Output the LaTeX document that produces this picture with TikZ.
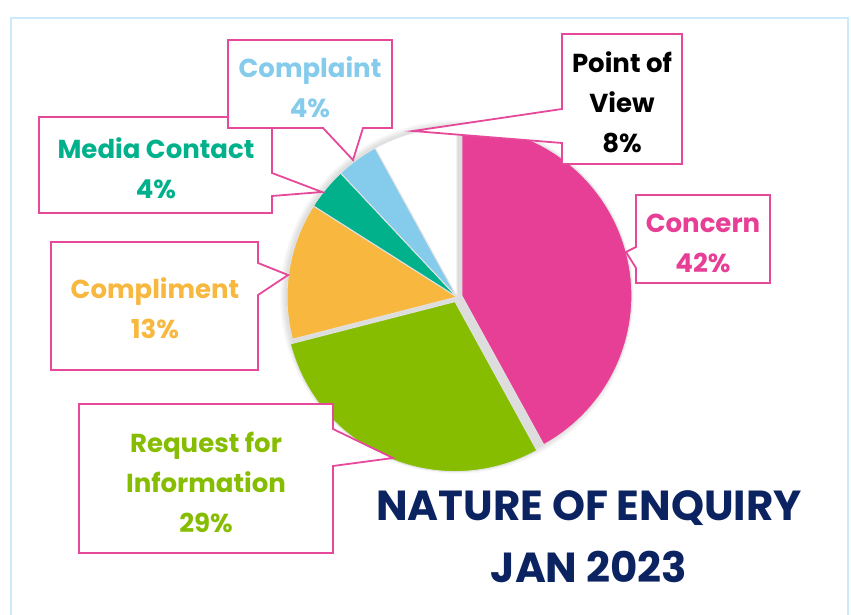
\documentclass[tikz,border=0pt]{standalone}
\usepackage{fontspec}
\setmainfont{Poppins}
\usetikzlibrary{calc}
\definecolor{concernPink}{HTML}{E63F95}
\definecolor{requestGreen}{HTML}{86BD00}
\definecolor{complimentOrange}{HTML}{F8B840}
\definecolor{mediaTeal}{HTML}{00B18B}
\definecolor{complaintBlue}{HTML}{84CBEC}
\definecolor{titleNavy}{HTML}{0C2361}
\definecolor{frameBlue}{HTML}{CBEBFB}
\definecolor{sepGray}{HTML}{E2E2E2}
\newcommand{\myEdgeColor}{concernPink!95!white}

\begin{document}
\begin{tikzpicture}[x=1pt,y=1pt,
	Slice/.style={draw=sepGray,line width=1pt,line join=round},
	Callout/.style={fill=white,draw=\myEdgeColor,line width=1.8pt},
	Label/.style={align=center,inner sep=0pt,font=\fontsize{26}{40}\selectfont\bfseries},
	Title/.style={align=center,inner sep=0pt,text=titleNavy,font=\fontsize{42}{62}\selectfont\bfseries},
]
	\useasboundingbox (0,0) rectangle (851,614);
	\draw[frameBlue,line width=2pt] (11,-5) -- (11,596) -- (848,596) -- (848,-5);

	% pie
	\coordinate (Ctr) at (457,317);
	\foreach \r in {171,...,177} \fill[black,opacity=0.02] (Ctr) circle (\r);
	\path[Slice,fill=concernPink] ($(Ctr)+(14.4:5)$) -- +(90:170) arc[start angle=90,end angle=-61.2,radius=170] -- cycle;
	\path[Slice,fill=requestGreen] ($(Ctr)+(-113.4:5)$) -- +(-61.2:170) arc[start angle=-61.2,end angle=-165.6,radius=170] -- cycle;
	\path[Slice,fill=complimentOrange] (Ctr) -- +(194.4:170) arc[start angle=194.4,end angle=147.6,radius=170] -- cycle;
	\path[Slice,fill=mediaTeal] (Ctr) -- +(147.6:170) arc[start angle=147.6,end angle=133.2,radius=170] -- cycle;
	\path[Slice,fill=complaintBlue] (Ctr) -- +(133.2:170) arc[start angle=133.2,end angle=118.8,radius=170] -- cycle;
	\path[Slice,fill=white] (Ctr) -- +(118.8:170) arc[start angle=118.8,end angle=90,radius=170] -- cycle;

	% callouts
	\coordinate (TipRequest) at (393,156);
	\draw[Callout] (79,61) -- (79,210) -- (333,210) -- (333,185) -- (TipRequest) -- (333,148) -- (333,61) -- cycle;
	\node[Label,text=requestGreen] (Request) at (206,132) {Request for\\Information\\29\%};

	\coordinate (TipCompliment) at (288,339);
	\draw[Callout] (51,244) -- (51,372) -- (258,372) -- (258,351) -- (TipCompliment) -- (258,319) -- (258,244) -- cycle;
	\node[Label,text=complimentOrange] (Compliment) at (155,306) {Compliment\\13\%};

	\coordinate (TipMedia) at (322,422);
	\draw[Callout] (39,401) -- (39,497) -- (272,497) -- (272,441) -- (TipMedia) -- (272,418) -- (272,401) -- cycle;
	\node[Label,text=mediaTeal] (Media) at (156,446) {Media Contact\\4\%};

	\coordinate (TipComplaint) at (353,454);
	\draw[Callout] (228,486) -- (228,574) -- (392,574) -- (392,486) -- (363,486) -- (TipComplaint) -- (323,486) -- cycle;
	\node[Label,text=complaintBlue] (Complaint) at (310,527) {Complaint\\4\%};

	\coordinate (TipView) at (413,483);
	\draw[Callout] (562,450) -- (562,471) -- (TipView) -- (562,505) -- (562,580) -- (682,580) -- (682,450) -- cycle;
	\node[Label,text=black] (View) at (622,512) {Point of\\View\\8\%};

	\coordinate (TipConcern) at (626,362);
	\draw[Callout] (636,331) -- (636,346) -- (TipConcern) -- (636,367) -- (636,419) -- (770,419) -- (770,331) -- cycle;
	\node[Label,text=concernPink] (Concern) at (703,371) {Concern\\42\%};

	% title
	\node[Title] (Heading) at (589,77) {NATURE OF ENQUIRY\\JAN 2023};
\end{tikzpicture}
\end{document}
